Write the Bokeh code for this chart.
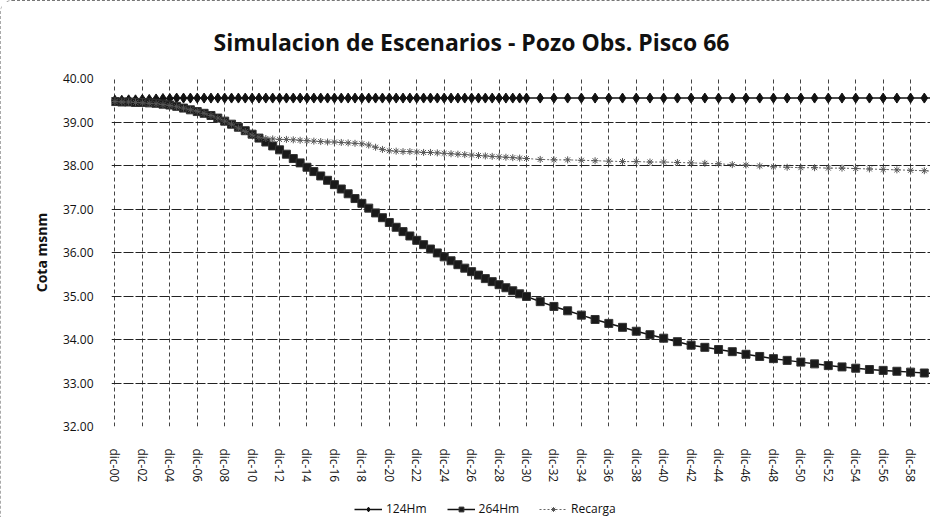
from bokeh.plotting import figure
from bokeh.layouts import column
from bokeh.models import FixedTicker, NumeralTickFormatter, Legend, LegendItem, Range1d
from bokeh.embed import file_html
from bokeh.resources import INLINE

# ---- data (years since dic-00; half-yearly to 2030, yearly afterwards) ----
anios = [0, 0.5, 1, 1.5, 2, 2.5, 3, 3.5, 4, 4.5, 5, 5.5, 6, 6.5, 7, 7.5, 8, 8.5, 9, 9.5,
         10, 10.5, 11, 11.5, 12, 12.5, 13, 13.5, 14, 14.5, 15, 15.5, 16, 16.5, 17, 17.5,
         18, 18.5, 19, 19.5, 20, 20.5, 21, 21.5, 22, 22.5, 23, 23.5, 24, 24.5, 25, 25.5,
         26, 26.5, 27, 27.5, 28, 28.5, 29, 29.5, 30,
         31, 32, 33, 34, 35, 36, 37, 38, 39, 40, 41, 42, 43, 44, 45, 46, 47, 48, 49, 50,
         51, 52, 53, 54, 55, 56, 57, 58, 59, 60]

serie_124 = [39.50, 39.50, 39.51, 39.51, 39.52, 39.52, 39.53, 39.54, 39.54, 39.55,
             39.55, 39.55, 39.55, 39.55, 39.55, 39.55, 39.55, 39.55, 39.55, 39.55,
             39.55, 39.55, 39.55, 39.55, 39.55, 39.55, 39.55, 39.55, 39.55, 39.55,
             39.55, 39.55, 39.55, 39.55, 39.55, 39.55, 39.55, 39.55, 39.55, 39.55,
             39.55, 39.55, 39.55, 39.55, 39.55, 39.55, 39.55, 39.55, 39.55, 39.55,
             39.55, 39.55, 39.55, 39.55, 39.55, 39.55, 39.55, 39.55, 39.55, 39.55, 39.55,
             39.55, 39.55, 39.55, 39.55, 39.55, 39.55, 39.55, 39.55, 39.55, 39.55,
             39.55, 39.55, 39.55, 39.55, 39.55, 39.55, 39.55, 39.55, 39.55, 39.55,
             39.55, 39.55, 39.55, 39.55, 39.55, 39.55, 39.55, 39.55, 39.55, 39.55]

serie_264 = [39.47, 39.46, 39.46, 39.45, 39.45, 39.44, 39.43, 39.41, 39.39, 39.36,
             39.32, 39.28, 39.24, 39.20, 39.15, 39.09, 39.02, 38.95, 38.88, 38.80,
             38.72, 38.63, 38.54, 38.45, 38.36, 38.26, 38.16, 38.06, 37.96, 37.86,
             37.76, 37.66, 37.56, 37.46, 37.35, 37.24, 37.13, 37.02, 36.91, 36.80,
             36.69, 36.58, 36.48, 36.38, 36.28, 36.18, 36.08, 35.99, 35.90, 35.81,
             35.72, 35.64, 35.56, 35.48, 35.40, 35.33, 35.26, 35.19, 35.12, 35.05, 34.99,
             34.87, 34.76, 34.66, 34.56, 34.46, 34.37, 34.28, 34.19, 34.11, 34.03,
             33.95, 33.87, 33.82, 33.77, 33.72, 33.66, 33.61, 33.56, 33.52, 33.48,
             33.44, 33.40, 33.37, 33.34, 33.31, 33.29, 33.27, 33.25, 33.23, 33.22]

recarga = [39.47, 39.46, 39.46, 39.45, 39.44, 39.43, 39.42, 39.40, 39.38, 39.35,
           39.32, 39.28, 39.25, 39.20, 39.15, 39.09, 39.02, 38.95, 38.86, 38.78,
           38.70, 38.65, 38.62, 38.61, 38.60, 38.60, 38.59, 38.58, 38.57, 38.56,
           38.55, 38.54, 38.54, 38.53, 38.52, 38.51, 38.50, 38.47, 38.42, 38.37,
           38.34, 38.33, 38.32, 38.32, 38.31, 38.30, 38.30, 38.29, 38.28, 38.27,
           38.26, 38.25, 38.24, 38.23, 38.22, 38.21, 38.20, 38.19, 38.18, 38.17, 38.16,
           38.14, 38.13, 38.13, 38.12, 38.11, 38.10, 38.09, 38.09, 38.08, 38.08,
           38.07, 38.06, 38.05, 38.04, 38.02, 38.01, 37.99, 37.97, 37.96, 37.95,
           37.95, 37.94, 37.94, 37.93, 37.92, 37.91, 37.90, 37.89, 37.88, 37.86]

ticks_x = [0, 2, 4, 6, 8, 10, 12, 14, 16, 18, 20, 22, 24, 26, 28,
           30, 32, 34, 36, 38, 40, 42, 44, 46, 48, 50, 52, 54, 56, 58]
etiquetas_x = ["dic-00", "dic-02", "dic-04", "dic-06", "dic-08", "dic-10", "dic-12",
               "dic-14", "dic-16", "dic-18", "dic-20", "dic-22", "dic-24", "dic-26",
               "dic-28", "dic-30", "dic-32", "dic-34", "dic-36", "dic-38", "dic-40",
               "dic-42", "dic-44", "dic-46", "dic-48", "dic-50", "dic-52", "dic-54",
               "dic-56", "dic-58"]
ticks_y = [32, 33, 34, 35, 36, 37, 38, 39, 40]

titulo = "Simulacion de Escenarios - Pozo  Obs.  Pisco 66"
nombres = ["124Hm", "264Hm", "Recarga"]

FONT = "Open Sans"

# styles per series
estilos = [
    dict(line_color="#111111", line_width=1.5, line_dash="solid",
         marker="diamond", size=10, fill_color="#111111", mline="#111111"),
    dict(line_color="#111111", line_width=1.5, line_dash="solid",
         marker="square", size=8, fill_color="#1a1a1a", mline="#333333"),
    dict(line_color="#666666", line_width=1, line_dash="2 2",
         marker="asterisk", size=7, fill_color="#555555", mline="#555555"),
]
series = [serie_124, serie_264, recarga]

p = figure(width=929, height=498, x_range=Range1d(-0.25, 59.45), y_range=Range1d(32, 40),
           output_backend="svg", toolbar_location=None,
           min_border_left=110, min_border_right=0, min_border_top=77, min_border_bottom=73)

p.title.text = titulo
p.title.align = "left"
p.title.offset = 102
p.title.text_font = FONT
p.title.text_font_size = "23px"
p.title.text_font_style = "bold"
p.title.text_color = "#111111"
p.title.standoff = 41

p.outline_line_color = None
p.background_fill_color = "white"
p.border_fill_color = "white"

# axes
p.xaxis.ticker = FixedTicker(ticks=ticks_x)
p.xaxis.major_label_overrides = {t: s for t, s in zip(ticks_x, etiquetas_x)}
p.xaxis.major_label_orientation = "vertical"
p.xaxis.major_label_text_font = FONT
p.xaxis.major_label_text_font_size = "12px"
p.xaxis.major_label_text_color = "#111111"
p.xaxis.major_label_standoff = 16
p.xaxis.axis_line_color = None
p.xaxis.major_tick_line_color = None
p.xaxis.minor_tick_line_color = None

p.yaxis.ticker = FixedTicker(ticks=ticks_y)
p.yaxis.formatter = NumeralTickFormatter(format="0.00")
p.yaxis.major_label_text_font = FONT
p.yaxis.major_label_text_font_size = "12px"
p.yaxis.major_label_text_color = "#111111"
p.yaxis.major_label_standoff = 12
p.yaxis.axis_line_color = None
p.yaxis.major_tick_line_color = None
p.yaxis.minor_tick_line_color = None
p.yaxis.axis_label = "Cota msnm"
p.yaxis.axis_label_text_font = FONT
p.yaxis.axis_label_text_font_size = "14px"
p.yaxis.axis_label_text_font_style = "bold"
p.yaxis.axis_label_text_color = "#111111"
p.yaxis.axis_label_standoff = 9

# grids
p.ygrid.ticker = FixedTicker(ticks=ticks_y)
p.ygrid.grid_line_color = "#222222"
p.ygrid.grid_line_dash = "10 2"
p.ygrid.grid_line_width = 1
p.xgrid.ticker = FixedTicker(ticks=ticks_x)
p.xgrid.grid_line_color = "#444444"
p.xgrid.grid_line_dash = "4 3"
p.xgrid.grid_line_width = 1

# series
for ys, st in zip(series, estilos):
    p.line(anios, ys, line_color=st["line_color"], line_width=st["line_width"],
           line_dash=st["line_dash"])
    p.scatter(anios, ys, marker=st["marker"], size=st["size"], fill_color=st["fill_color"],
              line_color=st["mline"], line_width=1)

# legend strip below the chart (separate small canvas so that it is not clipped);
# its renderers reuse the series, which fall outside this strip's ranges
lg = figure(width=929, height=18, x_range=Range1d(0, 1), y_range=Range1d(0, 1),
            output_backend="svg", toolbar_location=None,
            x_axis_location=None, y_axis_location=None,
            min_border_left=0, min_border_right=0, min_border_top=0, min_border_bottom=0)
lg.outline_line_color = None
lg.xgrid.visible = False
lg.ygrid.visible = False
lg.border_fill_color = "white"
items = []
for nombre, ys, st in zip(nombres, series, estilos):
    rl = lg.line(anios, ys, line_color=st["line_color"], line_width=st["line_width"],
                 line_dash=st["line_dash"])
    rm = lg.scatter(anios, ys, marker=st["marker"], size=st["size"] - 2,
                    fill_color=st["fill_color"], line_color=st["mline"], line_width=1)
    items.append(LegendItem(label=nombre, renderers=[rl, rm], index=0))
legend = Legend(items=items, orientation="horizontal", location=(243, 0),
                label_text_font=FONT, label_text_font_size="12px",
                label_text_color="#111111", glyph_width=28, glyph_height=12,
                label_standoff=4, spacing=20, padding=1, margin=0,
                border_line_color=None, background_fill_alpha=0)
lg.add_layout(legend, "center")

layout = column(p, lg, spacing=0)
layout.styles = {"border-top": "1px dashed #777", "border-left": "1px dashed #aaa",
                 "border-top-left-radius": "12px"}

open("out.html", "w").write(file_html(layout, INLINE))
